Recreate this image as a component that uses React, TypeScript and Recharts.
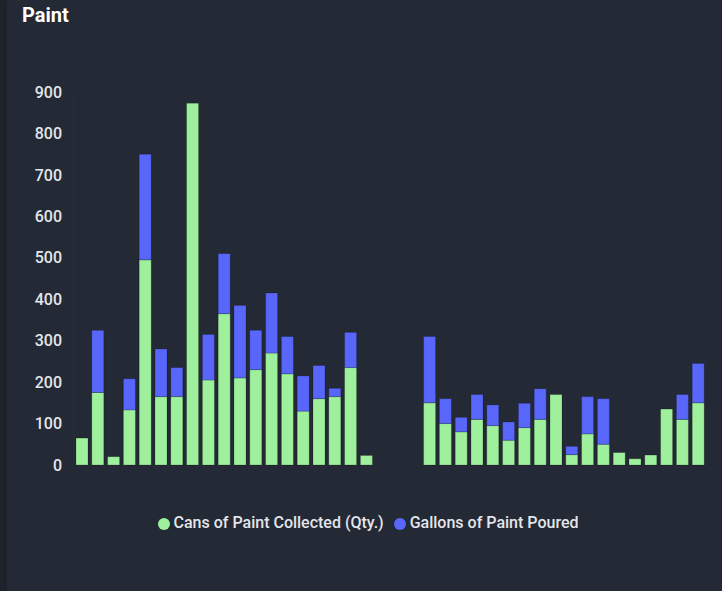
import { Bar, BarChart, Legend, XAxis, YAxis } from "recharts";

// periods (no visible x labels in the reference; 3 empty periods in the middle)
const periods = [
	"W1", "W2", "W3", "W4", "W5", "W6", "W7", "W8", "W9", "W10",
	"W11", "W12", "W13", "W14", "W15", "W16", "W17", "W18", "W19", "W20",
	"W21", "W22", "W23", "W24", "W25", "W26", "W27", "W28", "W29", "W30",
	"W31", "W32", "W33", "W34", "W35", "W36", "W37", "W38", "W39", "W40",
];

const cansCollected: (number | null)[] = [
	65, 175, 20, 133, 495, 165, 165, 873, 205, 365,
	210, 230, 270, 220, 130, 160, 165, 235, 23, null,
	null, null, 150, 100, 80, 110, 95, 60, 90, 110,
	170, 25, 75, 50, 30, 15, 24, 135, 110, 150,
];

const gallonsPoured: (number | null)[] = [
	null, 150, null, 75, 255, 115, 70, null, 110, 145,
	175, 95, 145, 90, 85, 80, 20, 85, null, null,
	null, null, 160, 60, 35, 60, 50, 44, 59, 74,
	null, 20, 90, 110, null, null, null, null, 60, 95,
];

const yTicks = [0, 100, 200, 300, 400, 500, 600, 700, 800, 900];

const GREEN = "#9ff09d";
const BLUE = "#5866fa";

const chartData = periods.map((p, i) => ({
	period: p,
	cans: cansCollected[i],
	gallons: gallonsPoured[i],
}));

export default function App() {
	return (
		<div
			style={{
				position: "fixed",
				inset: 0,
				background: "#1d2129",
				fontFamily: "Roboto, 'Noto Sans', sans-serif",
				overflow: "hidden",
			}}
		>
			<div
				style={{
					position: "absolute",
					left: 7,
					top: -8,
					right: -12,
					bottom: -12,
					borderRadius: 10,
					background: "#232935",
				}}
			/>
			<div
				style={{
					position: "absolute",
					left: 22,
					top: 3,
					color: "#ffffff",
					fontSize: 20,
					fontWeight: 700,
				}}
			>
				Paint
			</div>
			<div style={{ position: "absolute", left: 0, top: 0 }}>
				<BarChart
					width={722}
					height={591}
					data={chartData}
					barSize={12}
					margin={{ top: 92, right: 16, left: 10, bottom: 126 }}
				>
					<XAxis dataKey="period" hide height={0} />
					<YAxis
						width={64}
						domain={[0, 900]}
						ticks={yTicks}
						tickLine={false}
						tickSize={0}
						tickMargin={12}
						axisLine={{ stroke: "#2a303c" }}
						tick={{ fill: "#e4e6ea", fontSize: 16, fontWeight: 500 }}
					/>
					<Legend
						verticalAlign="middle"
						iconType="circle"
						iconSize={12}
						wrapperStyle={{ top: 513, left: 25, fontSize: 16, fontWeight: 500 }}
						formatter={(value) => <span style={{ color: "#e4e6ea" }}>{value}</span>}
					/>
					<Bar
						dataKey="cans"
						name="Cans of Paint Collected (Qty.)"
						stackId="paint"
						fill={GREEN}
						stroke="#000000"
						strokeOpacity={0.18}
						isAnimationActive={false}
					/>
					<Bar
						dataKey="gallons"
						name="Gallons of Paint Poured"
						stackId="paint"
						fill={BLUE}
						stroke="#000000"
						strokeOpacity={0.18}
						isAnimationActive={false}
					/>
				</BarChart>
			</div>
		</div>
	);
}
